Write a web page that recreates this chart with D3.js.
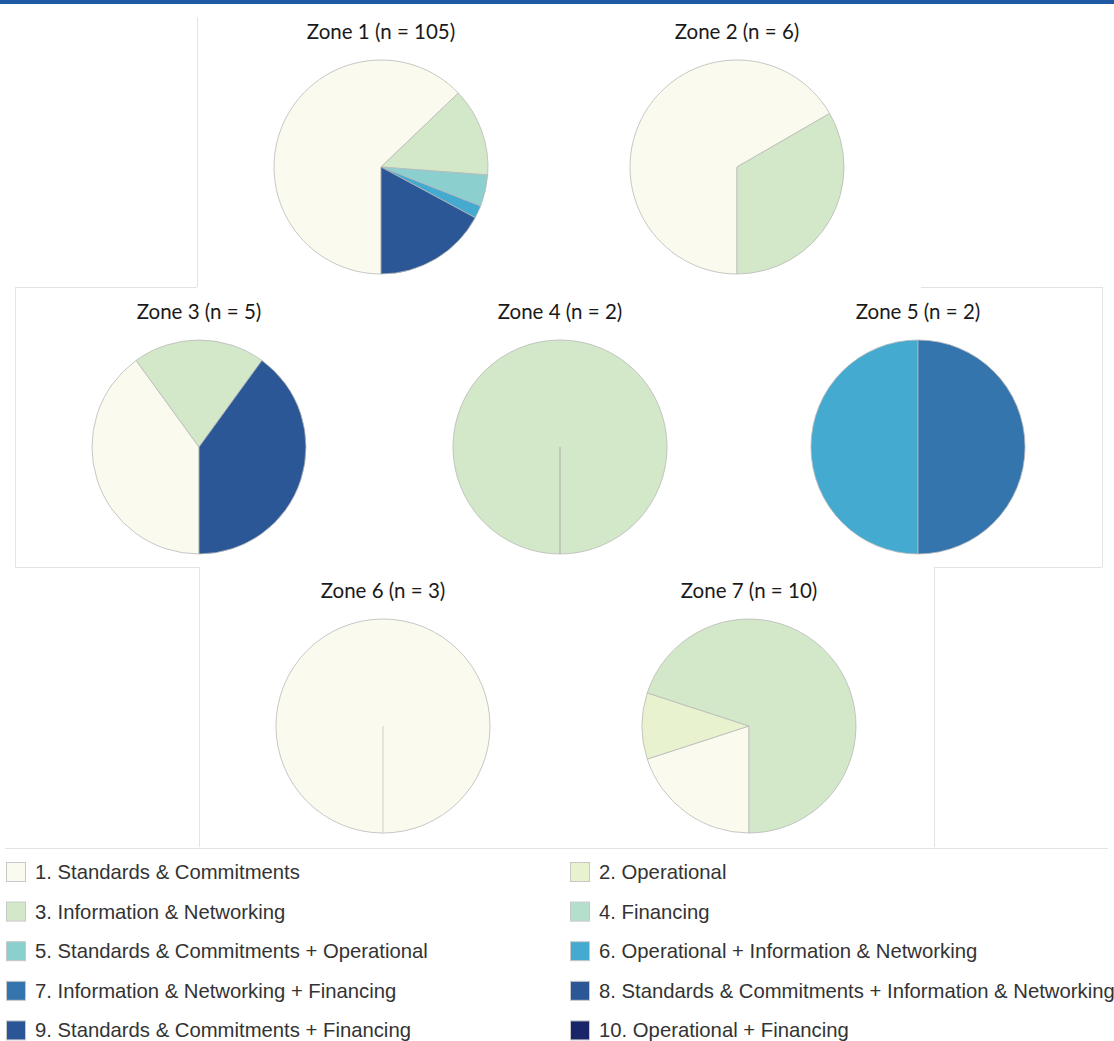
<!DOCTYPE html>
<html><head><meta charset="utf-8">
<script src="https://cdn.jsdelivr.net/npm/d3@7"></script>
<style>
html,body{margin:0;padding:0;background:#fff;}
svg{display:block;}
</style></head>
<body>
<script>
const categories = [
  "1. Standards & Commitments",
  "2. Operational",
  "3. Information & Networking",
  "4. Financing",
  "5. Standards & Commitments + Operational",
  "6. Operational + Information & Networking",
  "7. Information & Networking + Financing",
  "8. Standards & Commitments + Information & Networking",
  "9. Standards & Commitments + Financing",
  "10. Operational + Financing"
];
const colors = ["#fafbee","#e8f2cf","#d3e8c8","#b3dfcd","#8bcfcf","#45aad0","#3575ad","#2b5797","#2a5596","#1a2469"];
const zoneNames = ["Zone 1","Zone 2","Zone 3","Zone 4","Zone 5","Zone 6","Zone 7"];
// counts per category (1..10) for each zone
const zone1 = [66,0,14,0,5,2,0,18,0,0];
const zone2 = [4,0,2,0,0,0,0,0,0,0];
const zone3 = [2,0,1,0,0,0,0,2,0,0];
const zone4 = [0,0,2,0,0,0,0,0,0,0];
const zone5 = [0,0,0,0,0,1,1,0,0,0];
const zone6 = [3,0,0,0,0,0,0,0,0,0];
const zone7 = [2,1,7,0,0,0,0,0,0,0];
const zoneData = [zone1,zone2,zone3,zone4,zone5,zone6,zone7];

const W = 1114, H = 1041;
const svg = d3.select("body").append("svg").attr("width", W).attr("height", H);

// top blue bar
svg.append("rect").attr("x",0).attr("y",0).attr("width",W).attr("height",4).attr("fill","#1f58a3");

// faint panel borders
const borderColor = "#e3e3e3";
const borders = [
  [197,17,197,287],
  [15,287,197,287],[15,287,15,567],[15,567,199,567],[199,567,199,847],
  [921,287,1102,287],[1102,287,1102,567],[934,567,1102,567],[934,567,934,847],
  [5,848,1108,848]
];
svg.append("g").selectAll("line").data(borders).join("line")
  .attr("x1",d=>d[0]).attr("y1",d=>d[1]).attr("x2",d=>d[2]).attr("y2",d=>d[3])
  .attr("stroke",borderColor).attr("stroke-width",1).attr("shape-rendering","crispEdges");

// pie layout positions
const centers = [[381,167],[737,167],[199,447],[560,447],[918,447],[383,726],[749,726]];
const R = 107;
const pie = d3.pie().sort(null).value(d=>d.v).startAngle(Math.PI).endAngle(3*Math.PI);
const arc = d3.arc().innerRadius(0).outerRadius(R);

zoneData.forEach((vals, zi) => {
  const n = d3.sum(vals);
  const [cx, cy] = centers[zi];
  const g = svg.append("g").attr("transform", `translate(${cx},${cy})`);
  const items = vals.map((v,i)=>({v, i})).filter(d=>d.v>0);
  const arcs = pie(items);
  g.selectAll("path").data(arcs).join("path")
    .attr("d", arc)
    .attr("fill", d=>colors[d.data.i])
    .attr("stroke", "#b9b9b9")
    .attr("stroke-width", 0.8)
    .attr("stroke-linejoin","round");
  if (arcs.length === 1) {
    const a = arcs[0].startAngle;
    g.append("line").attr("x1",0).attr("y1",0)
      .attr("x2", R*Math.sin(a)).attr("y2", -R*Math.cos(a))
      .attr("stroke", arcs[0].data.i === 0 ? "#cfcfc4" : "#a9aba4").attr("stroke-width",1);
  }
  svg.append("text")
    .attr("x", cx).attr("y", cy - R - 21)
    .attr("text-anchor","middle")
    .attr("font-family","Lato, 'Open Sans', sans-serif")
    .attr("font-size", 20.5)
    .attr("fill","#1a1a1a")
    .text(`${zoneNames[zi]} (n = ${n})`);
});

// legend
const lg = svg.append("g");
const rowY0 = 872, rowStep = 39.6;
categories.forEach((c, i) => {
  const col = i % 2, row = Math.floor(i/2);
  const x = col === 0 ? 6 : 570;
  const y = rowY0 + row*rowStep;
  lg.append("rect").attr("x", x+0.5).attr("y", y-10+0.5).attr("width",19).attr("height",19)
    .attr("fill", colors[i]).attr("stroke","#c8c8c8").attr("stroke-width",1);
  lg.append("text").attr("x", x+29).attr("y", y+7)
    .attr("font-family","'Liberation Sans', Arial, sans-serif")
    .attr("font-size",20.3).attr("fill","#333")
    .text(c);
});
</script>
</body></html>
